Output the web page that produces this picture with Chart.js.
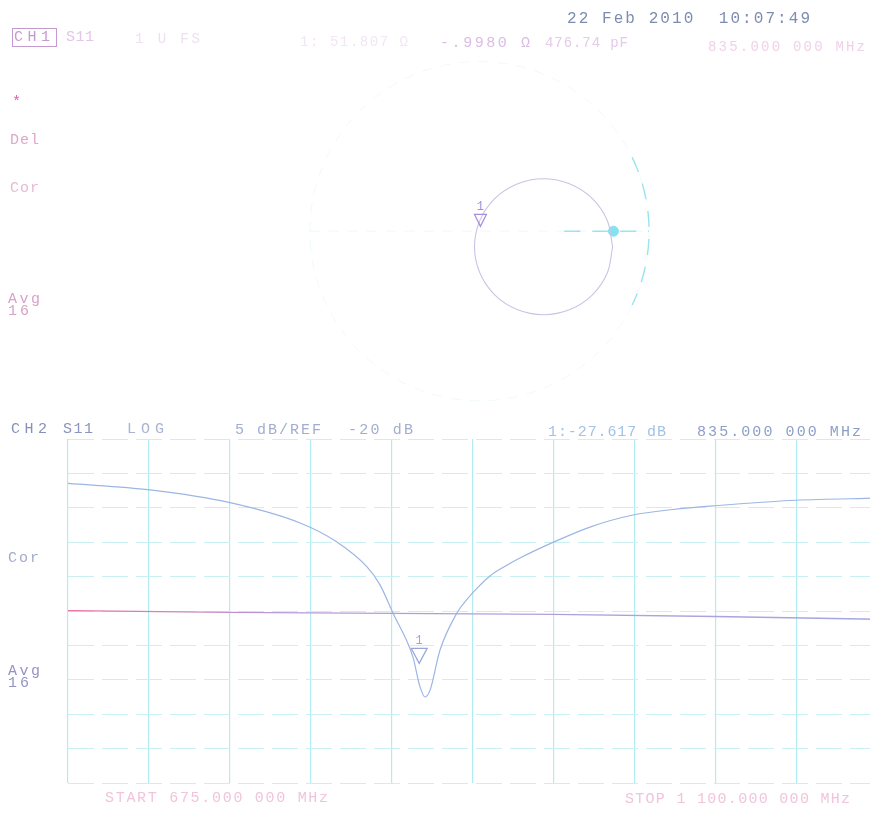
<!DOCTYPE html>
<html>
<head>
<meta charset="utf-8">
<script src="https://cdn.jsdelivr.net/npm/chart.js@4.4.1/dist/chart.umd.min.js"></script>
<style>
html, body { margin: 0; padding: 0; background: #fff; width: 870px; height: 815px; overflow: hidden; position: relative; }
canvas { position: absolute; left: 0; }
.t { position: absolute; font-family: "Liberation Mono", "DejaVu Sans Mono", monospace; white-space: pre; line-height: 1; }
</style>
</head>
<body>
<canvas id="smith" width="870" height="410" style="top:0"></canvas>
<canvas id="logmag" width="885" height="395" style="top:420px"></canvas>
<script>
// CH2: S11 log magnitude (x in MHz, y in dB)
const freqMHz = [675, 718.1, 760.1, 796.9, 815.3, 832.1, 838.9, 845.7, 856.2, 859.9, 862.5, 865.2, 870.4, 879.3, 884.6, 889.8, 896.7, 904.6, 912.4, 929.2, 949.2, 971.8, 992.8, 1014.9, 1057.4, 1100];
const s11dB   = [-1.45, -2.4, -4.25, -7.2, -9.8, -13.6, -16.2, -20.3, -26.7, -31.0, -32.5, -31.5, -25.7, -20.3, -18.3, -16.7, -14.9, -13.5, -12.3, -10.1, -7.8, -6.05, -5.25, -4.7, -3.9, -3.6];

// second (magenta) trace, nearly flat around the reference
const refFreqMHz = [675, 760, 930, 1015, 1100];
const refTraceDb = [-19.95, -20.2, -20.5, -20.8, -21.2];

// graticule: 10 divisions each way, 5 dB/div, REF -20 dB
const freqGridMHz = [675, 717.5, 760, 802.5, 845, 887.5, 930, 972.5, 1015, 1057.5, 1100];
const dbGrid = [5, 0, -5, -10, -15, -20, -25, -30, -35, -40, -45];

const marker1Freq = 859.5;
const marker1Db = -27.617;

// CH1: Smith chart trace, reflection coefficient
const gammaRe = [0.785, 0.754, 0.666, 0.534, 0.378, 0.222, 0.090, 0.002, -0.029, 0.002, 0.090, 0.222, 0.378, 0.534, 0.666, 0.754, 0.785];
const gammaIm = [-0.093, 0.063, 0.195, 0.283, 0.314, 0.283, 0.195, 0.063, -0.093, -0.249, -0.381, -0.469, -0.500, -0.469, -0.381, -0.249, -0.093];
const smithMarker = { re: 0.006, im: 0.029 };
const smithStart = { re: 0.79, im: 0 };

const FONT = '"Liberation Mono", "DejaVu Sans Mono", monospace';

function markerPlugin(dsIndex, w, h, color) {
    return {
        id: 'marker' + dsIndex,
        afterDatasetsDraw(chart) {
            const pt = chart.getDatasetMeta(dsIndex).data[0];
            if (!pt) return;
            const ctx = chart.ctx;
            ctx.save();
            ctx.strokeStyle = color;
            ctx.fillStyle = color;
            ctx.lineWidth = 1.2;
            ctx.beginPath();
            ctx.moveTo(pt.x, pt.y);
            ctx.lineTo(pt.x - w / 2, pt.y - h);
            ctx.lineTo(pt.x + w / 2, pt.y - h);
            ctx.closePath();
            ctx.stroke();
            ctx.font = '12px ' + FONT;
            ctx.textAlign = 'center';
            ctx.textBaseline = 'bottom';
            ctx.fillText('1', pt.x, pt.y - h - 2);
            ctx.restore();
        }
    };
}

// faint Smith chart outline drawn through the chart's own scales
const smithGrid = {
    id: 'smithGrid',
    beforeDatasetsDraw(chart) {
        const { ctx, scales: { x, y } } = chart;
        const cx = x.getPixelForValue(0);
        const cy = y.getPixelForValue(0);
        const r = x.getPixelForValue(1) - cx;
        ctx.save();
        ctx.lineWidth = 1;
        ctx.strokeStyle = 'rgba(170,228,240,0.2)';
        ctx.setLineDash([10, 9]);
        ctx.beginPath();
        ctx.arc(cx, cy, r, 0, Math.PI * 2);
        ctx.stroke();
        ctx.beginPath();
        ctx.moveTo(cx - r, cy);
        ctx.lineTo(cx + r, cy);
        ctx.stroke();
        ctx.strokeStyle = 'rgba(100,215,235,0.65)';
        ctx.lineWidth = 1.4;
        ctx.setLineDash([16, 12]);
        ctx.beginPath();
        ctx.arc(cx, cy, r, -0.45, 0.45);
        ctx.stroke();
        ctx.beginPath();
        ctx.moveTo(x.getPixelForValue(0.5), cy);
        ctx.lineTo(cx + r, cy);
        ctx.stroke();
        ctx.restore();
    }
};

new Chart(document.getElementById('smith'), {
    type: 'scatter',
    data: {
        datasets: [{
            data: gammaRe.map((v, i) => ({ x: v, y: gammaIm[i] })),
            showLine: true,
            tension: 0.35,
            borderColor: '#cdc2e6',
            borderWidth: 1.1,
            pointRadius: 0
        }, {
            data: [{ x: smithMarker.re, y: smithMarker.im }],
            pointRadius: 0
        }, {
            data: [{ x: smithStart.re, y: smithStart.im }],
            pointRadius: 5,
            pointBackgroundColor: '#86e2ef',
            pointBorderColor: '#86e2ef'
        }]
    },
    options: {
        responsive: false,
        animation: false,
        layout: { padding: 0 },
        scales: {
            x: { display: false, min: -2.791, max: 2.267 },
            y: { display: false, min: -1.035, max: 1.349 }
        },
        plugins: { legend: { display: false }, tooltip: { enabled: false } }
    },
    plugins: [smithGrid, markerPlugin(1, 12, 12, '#a48ee0')]
});

new Chart(document.getElementById('logmag'), {
    type: 'scatter',
    data: {
        datasets: [{
            data: refFreqMHz.map((f, i) => ({ x: f, y: refTraceDb[i] })),
            showLine: true,
            borderWidth: 1.3,
            pointRadius: 0,
            borderColor: (c) => {
                const a = c.chart.chartArea;
                if (!a) return '#c090d0';
                const g = c.chart.ctx.createLinearGradient(a.left, 0, a.right, 0);
                g.addColorStop(0, '#ec6f9e');
                g.addColorStop(0.25, '#b898d8');
                g.addColorStop(1, '#a4a8e2');
                return g;
            }
        }, {
            data: freqMHz.map((f, i) => ({ x: f, y: s11dB[i] })),
            showLine: true,
            cubicInterpolationMode: 'monotone',
            borderColor: '#9cb6e4',
            borderWidth: 1.2,
            pointRadius: 0
        }, {
            data: [{ x: marker1Freq, y: marker1Db }],
            pointRadius: 0
        }]
    },
    options: {
        responsive: false,
        animation: false,
        layout: { padding: { left: 68, top: 19, right: 8, bottom: 32 } },
        scales: {
            x: {
                type: 'linear',
                min: freqGridMHz[0],
                max: freqGridMHz[freqGridMHz.length - 1],
                afterBuildTicks: (s) => { s.ticks = freqGridMHz.map(v => ({ value: v })); },
                ticks: { display: false },
                grid: { color: '#b2ebf1', lineWidth: 1.2, drawTicks: false },
                border: { display: false }
            },
            y: {
                min: dbGrid[dbGrid.length - 1],
                max: dbGrid[0],
                afterBuildTicks: (s) => { s.ticks = dbGrid.map(v => ({ value: v })); },
                ticks: { display: false },
                grid: { color: '#c9f1f4', lineWidth: 1, drawTicks: false },
                border: { display: false, dash: [26, 8] }
            }
        },
        plugins: { legend: { display: false }, tooltip: { enabled: false } }
    },
    plugins: [markerPlugin(2, 16, 15, '#98a6d8')]
});

// instrument annotations
function label(text, x1, x2, capTop, size, color, boxed) {
    const el = document.createElement('div');
    el.className = 't';
    el.textContent = text;
    const n = text.length;
    const ls = n > 1 ? (x2 - x1 - n * size * 0.6) / (n - 1) : 0;
    el.style.left = x1 + 'px';
    el.style.top = (capTop - 0.11 * size) + 'px';
    el.style.fontSize = size + 'px';
    el.style.color = color;
    el.style.letterSpacing = ls + 'px';
    if (boxed) {
        el.style.outline = '1px solid ' + color;
        el.style.outlineOffset = '1px';
    }
    document.body.appendChild(el);
}

label('22 Feb 2010  10:07:49', 567, 810, 13, 16, '#7d8cb0');
label('CH1', 14, 50, 32, 15, '#c49ad0', true);
label('S11', 66, 94, 32, 15, '#e2c6e8');
label('1 U FS', 135, 200, 34, 14, '#efe0f1');
label('1: 51.807 Ω', 300, 408, 37, 14, '#f2e6f4');
label('-.9980 Ω', 440, 530, 38, 15, '#dbbce3');
label('476.74 pF', 545, 628, 38, 14, '#e3cbe9');
label('835.000 000 MHz', 708, 865, 42, 14, '#efd2e8');

label('*', 12, 20, 97, 15, '#d45fae');
label('Del', 10, 39, 135, 15, '#dfa8cb');
label('Cor', 10, 39, 183, 15, '#e6bad2');
label('Avg', 8, 40, 294, 15, '#d8a2c9');
label('16', 8, 29, 306, 15, '#d8a2c9');

label('CH2', 11, 47, 424, 15, '#8392ba');
label('S11', 63, 93, 424, 15, '#8a93c6');
label('LOG', 127, 164, 424, 15, '#aab4d2');
label('5 dB/REF', 235, 321, 425, 15, '#a2aed0');
label('-20 dB', 348, 413, 425, 15, '#a2aed0');
label('1:-27.617 dB', 548, 666, 427, 15, '#a2c2e6');
label('835.000 000 MHz', 697, 861, 427, 15, '#8c9fc8');

label('Cor', 8, 39, 553, 15, '#a2aac8');
label('Avg', 8, 40, 666, 15, '#9494c2');
label('16', 8, 29, 678, 15, '#9494c2');

label('START 675.000 000 MHz', 105, 328, 793, 15, '#f1c4dc');
label('STOP 1 100.000 000 MHz', 625, 850, 794, 15, '#f1c4dc');
</script>
</body>
</html>
